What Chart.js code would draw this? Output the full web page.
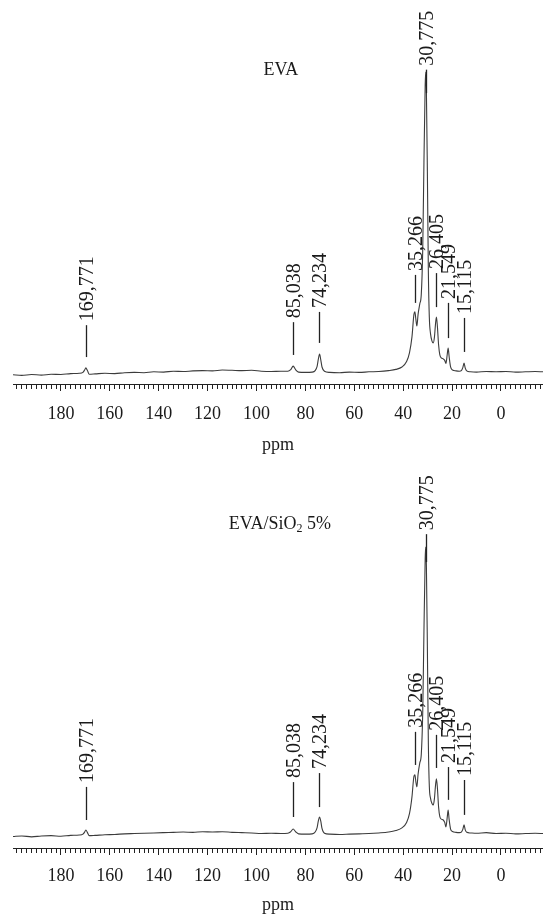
<!DOCTYPE html>
<html>
<head>
<meta charset="utf-8">
<title>13C NMR - EVA and EVA/SiO2 5%</title>
<script src="https://cdn.jsdelivr.net/npm/chart.js@4.4.1/dist/chart.umd.min.js"></script>
<style>
  html, body { margin: 0; padding: 0; background: #fff; overflow: hidden; }
  .panel { position: absolute; left: 0; width: 543px; height: 460px; }
  #panelTop { top: 0; }
  #panelBottom { top: 460px; }
</style>
</head>
<body>
<div class="panel" id="panelTop"><canvas id="evaChart"></canvas></div>
<div class="panel" id="panelBottom"><canvas id="silicaChart"></canvas></div>
<script>
// Chemical shift grid (ppm) shared by both spectra
const shiftPpm = [
  199.6, 196, 192, 188, 184, 180, 176, 172.5, 171, 170.3,
  169.8, 169.2, 168.4, 166, 162, 158, 154, 150, 146, 142,
  138, 134, 130, 126, 122, 118, 114, 110, 106, 102,
  98, 94, 90, 87.2, 86, 85.0, 84, 82.8, 80, 77.2,
  76, 75.2, 74.7, 74.2, 73.7, 73.2, 72.2, 70, 66, 62,
  58, 54, 50, 46, 43, 40.5, 38.6, 37.4, 36.4, 35.6,
  35.2, 34.8, 34.4, 33.9, 33.2, 32.6, 32.0, 31.5, 31.0, 30.78,
  30.5, 30.1, 29.7, 29.3, 28.8, 28.2, 27.7, 27.2, 26.8, 26.4,
  26.0, 25.5, 25.0, 24.4, 23.6, 23.0, 22.5, 22.0, 21.6, 21.2,
  20.6, 19.8, 18.4, 17, 16.2, 15.6, 15.1, 14.6, 14.0, 12.5,
  10, 6, 2, -2, -6, -10, -14, -17.2
];

// EVA, relative intensity (main peak = 100)
const evaIntensity = [
  -0.6, -0.8, -0.5, -0.7, -0.4, -0.5, -0.2, -0.1, 0.2, 1.0,
  1.7, 0.9, -0.4, -0.3, -0.1, -0.2, 0.1, 0.2, 0.1, 0.4,
  0.3, 0.6, 0.5, 0.7, 0.8, 0.7, 1.0, 0.9, 0.8, 0.9,
  0.6, 0.5, 0.6, 0.6, 1.1, 2.3, 1.1, 0.3, 0.2, 0.3,
  0.8, 2.2, 4.6, 6.3, 4.4, 2.0, 0.6, 0.2, 0.1, 0.3,
  0.2, 0.4, 0.5, 0.8, 1.2, 2.0, 3.8, 6.8, 12.0, 19.5,
  20.3, 17.8, 15.6, 19.5, 23.0, 26.0, 41.0, 70.0, 95.5, 100,
  94, 67, 34, 18.5, 13.0, 10.6, 10.0, 12.0, 16.0, 18.6,
  15.5, 9.3, 6.0, 5.0, 4.7, 4.2, 3.2, 6.0, 8.3, 5.5,
  2.0, 1.0, 0.7, 0.6, 0.8, 1.8, 3.3, 1.6, 0.7, 0.4,
  0.3, 0.5, 0.4, 0.5, 0.3, 0.4, 0.5, 0.4
];

// EVA/SiO2 5%, same units
const silicaIntensity = [
  -1.2, -1.0, -1.3, -1.0, -0.9, -1.1, -0.8, -0.7, -0.4, 0.3,
  1.0, 0.2, -0.9, -0.8, -0.6, -0.5, -0.3, -0.2, -0.1, 0.0,
  0.1, 0.2, 0.3, 0.2, 0.4, 0.3, 0.4, 0.2, 0.1, 0.0,
  -0.2, -0.1, -0.2, -0.1, 0.4, 1.3, 0.4, -0.3, -0.4, -0.3,
  0.3, 1.8, 4.0, 5.3, 3.9, 1.5, -0.1, -0.4, -0.5, -0.4,
  -0.3, -0.2, 0.0, 0.3, 0.8, 1.7, 3.5, 6.5, 12.0, 18.8,
  19.3, 17.0, 15.3, 19.5, 23.3, 26.0, 40.0, 67.0, 91.0, 95.0,
  89, 62, 30, 15.5, 11.5, 9.8, 9.3, 11.5, 15.5, 18.0,
  15.0, 8.5, 5.4, 4.6, 4.3, 3.5, 2.0, 5.0, 7.6, 4.5,
  1.3, 0.5, 0.2, 0.1, 0.3, 1.2, 2.7, 1.0, 0.2, 0.0,
  -0.1, 0.1, -0.2, -0.1, -0.3, -0.2, -0.1, -0.2
];

// Labelled peaks and the extent of their marker lines (intensity units)
const peakPpm = [169.771, 85.038, 74.234, 35.266, 30.775, 26.405, 21.549, 15.115];
const evaMarkTop = [15.9, 16.9, 20.3, 32.6, 100.8, 33.2, 23.3, 18.3];
const evaMarkBottom = [5.3, 6.0, 10.0, 23.3, 93, 21.9, 11.6, 7.0];
const silicaMarkTop = [15.3, 16.9, 19.9, 33.6, 99.3, 32.6, 21.9, 17.6];
const silicaMarkBottom = [4.3, 5.3, 8.6, 22.6, 90, 21.6, 11.0, 6.0];

// Axis range and tick spacing (ppm)
const ppmMin = -17.2;
const ppmMax = 199.6;
const minorStep = 2;
const majorStep = 20;

const FONT = '"Liberation Serif", "Times New Roman", serif';
const INK = '#1a1a1a';

// Rotated peak labels with their vertical marker lines
const peakLabels = {
  id: 'peakLabels',
  afterDatasetsDraw(chart, args, opts) {
    const { ctx, scales: { x, y } } = chart;
    ctx.save();
    ctx.strokeStyle = '#222';
    ctx.lineWidth = 1.3;
    ctx.fillStyle = INK;
    ctx.font = '20px ' + FONT;
    opts.ppm.forEach((p, i) => {
      const px = Math.round(x.getPixelForValue(p)) + 0.5;
      const yTop = y.getPixelForValue(opts.top[i]);
      const yBot = y.getPixelForValue(opts.bottom[i]);
      ctx.beginPath();
      ctx.moveTo(px, yTop);
      ctx.lineTo(px, yBot);
      ctx.stroke();

      ctx.save();
      ctx.translate(px, yTop - 4);
      ctx.rotate(-Math.PI / 2);
      ctx.textAlign = 'left';
      ctx.textBaseline = 'alphabetic';
      ctx.fillText(p.toFixed(3).replace('.', ','), 0, 6.5);
      ctx.restore();
    });
    ctx.restore();
  }
};

// Sample name inside the plot, with optional subscript parts
const panelTitle = {
  id: 'panelTitle',
  afterDraw(chart, args, opts) {
    const { ctx, scales: { x, y } } = chart;
    const cx = x.getPixelForValue(opts.ppm);
    const cy = y.getPixelForValue(opts.level);
    const big = '18px ' + FONT;
    const small = '12px ' + FONT;
    ctx.save();
    ctx.fillStyle = INK;
    ctx.textAlign = 'left';
    ctx.textBaseline = 'middle';
    const widths = opts.parts.map(([t, sub]) => {
      ctx.font = sub ? small : big;
      return ctx.measureText(t).width;
    });
    let px = cx - widths.reduce((a, b) => a + b, 0) / 2;
    opts.parts.forEach(([t, sub], i) => {
      ctx.font = sub ? small : big;
      ctx.fillText(t, px, cy + (sub ? 5 : 0));
      px += widths[i];
    });
    ctx.restore();
  }
};

function buildSpectrum(canvasId, intensity, markTop, markBottom, yMin, tickPad, padBottom, title) {
  const points = shiftPpm.map((p, i) => ({ x: p, y: intensity[i] }));

  return new Chart(document.getElementById(canvasId), {
    type: 'line',
    data: {
      datasets: [{
        data: points,
        borderColor: '#3c3c3c',
        borderWidth: 1.1,
        pointRadius: 0,
        cubicInterpolationMode: 'monotone',
        fill: false
      }]
    },
    plugins: [peakLabels, panelTitle],
    options: {
      responsive: true,
      maintainAspectRatio: false,
      animation: false,
      layout: { padding: { top: 20, left: 13, right: 0, bottom: padBottom } },
      plugins: {
        legend: { display: false },
        tooltip: { enabled: false },
        peakLabels: { ppm: peakPpm, top: markTop, bottom: markBottom },
        panelTitle: title
      },
      scales: {
        x: {
          type: 'linear',
          reverse: true,
          min: ppmMin,
          max: ppmMax,
          // axis runs right to the edge: drop the side padding reserved for labels
          afterFit: scale => {
            scale.paddingLeft = 0;
            scale.paddingRight = 0;
          },
          border: { display: true, color: '#222', width: 1 },
          grid: {
            drawOnChartArea: false,
            drawTicks: true,
            tickLength: 7,
            tickWidth: 1,
            tickColor: '#222',
            // minor ticks: only the first 4px of the tick mark is drawn
            tickBorderDash: ctx => (ctx.tick && ctx.tick.value % majorStep !== 0 ? [4, 20] : [])
          },
          ticks: {
            stepSize: minorStep,
            autoSkip: false,
            maxRotation: 0,
            includeBounds: false,
            padding: tickPad,
            color: INK,
            font: { family: FONT, size: 18 },
            callback: v => (v % majorStep === 0 ? String(v) : '')
          },
          title: {
            display: true,
            text: 'ppm',
            color: INK,
            padding: 0,
            font: { family: FONT, size: 18, lineHeight: 1 }
          }
        },
        y: {
          display: false,
          min: yMin,
          max: 117.3
        }
      }
    }
  });
}

document.addEventListener('DOMContentLoaded', () => {
  buildSpectrum('evaChart', evaIntensity, evaMarkTop, evaMarkBottom, -3.65, 12, 5.4,
    { ppm: 90, level: 100.7, parts: [['EVA', false]] });
  buildSpectrum('silicaChart', silicaIntensity, silicaMarkTop, silicaMarkBottom, -5.0, 10, 5.4,
    { ppm: 90.4, level: 102.7, parts: [['EVA/SiO', false], ['2', true], [' 5%', false]] });
});
</script>
</body>
</html>
